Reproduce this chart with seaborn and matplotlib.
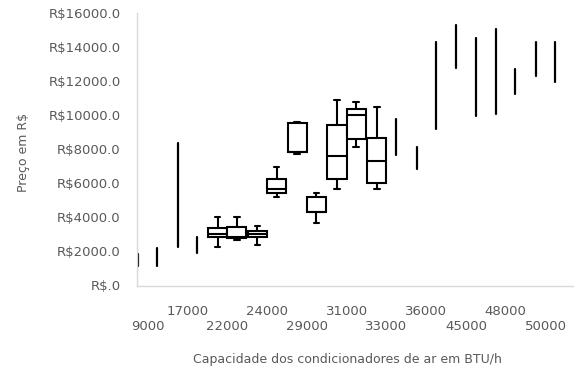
import numpy as np
import pandas as pd
import matplotlib
matplotlib.use("Agg")
import matplotlib.pyplot as plt
import seaborn as sns

# ---------------- data ----------------
capacidades = ["9000", "17000", "22000", "24000", "29000", "31000",
               "33000", "36000", "45000", "48000", "50000"]
series = ["Série 1", "Série 2"]

# groups drawn as boxes: min, Q1, median, Q3, max
box_cap = ["22000", "22000", "24000", "24000", "29000", "29000",
           "31000", "31000", "33000"]
box_serie = ["Série 1", "Série 2", "Série 1", "Série 2", "Série 1",
             "Série 2", "Série 1", "Série 2", "Série 1"]
box_min = [2250, 2680, 2380, 5190, 7760, 3660, 5670, 8130, 5670]
box_q1 = [2830, 2780, 2830, 5420, 7830, 4350, 6250, 8600, 6050]
box_med = [3030, 2850, 3030, 5700, 7830, 4350, 7630, 10030, 7320]
box_q3 = [3360, 3420, 3220, 6260, 9560, 5190, 9440, 10360, 8690]
box_max = [4010, 4010, 3520, 6950, 9610, 5420, 10910, 10810, 10480]

# groups with only two prices (drawn as a plain range line)
line_cap = ["9000", "9000", "17000", "17000", "33000", "36000", "36000",
            "45000", "45000", "48000", "48000", "50000", "50000"]
line_serie = ["Série 1", "Série 2", "Série 1", "Série 2", "Série 2",
              "Série 1", "Série 2", "Série 1", "Série 2", "Série 1",
              "Série 2", "Série 1", "Série 2"]
line_min = [1150, 1150, 2250, 1890, 7670, 6830, 9190,
            12810, 9980, 10080, 11280, 12320, 11980]
line_max = [1850, 2190, 8360, 2870, 9770, 8130, 14340,
            15320, 14570, 15070, 12710, 14340, 14340]

yticks = [0, 2000, 4000, 6000, 8000, 10000, 12000, 14000, 16000]
ytick_labels = ["R$.0", "R$2000.0", "R$4000.0", "R$6000.0", "R$8000.0",
                "R$10000.0", "R$12000.0", "R$14000.0", "R$16000.0"]

# ---------------- tables ----------------
rows = []
for c, s, a, b, m, d, e in zip(box_cap, box_serie, box_min, box_q1,
                               box_med, box_q3, box_max):
    for v in (a, b, m, d, e):
        rows.append({"cap": c, "serie": s, "preco": v})
box_df = pd.DataFrame(rows)

rows = []
for c, s, a, b in zip(line_cap, line_serie, line_min, line_max):
    for v in (a, b):
        rows.append({"cap": c, "serie": s, "preco": v})
line_df = pd.DataFrame(rows)

# ---------------- plot ----------------
sns.set_style("white")
plt.rcParams["font.family"] = ["DejaVu Sans"]

W, H = 574, 373
fig = plt.figure(figsize=(W / 100, H / 100), dpi=100)
ax = fig.add_axes([137.3 / W, (H - 285.5) / H, (573 - 137.3) / W, 272 / H])

sns.boxplot(data=box_df, x="cap", y="preco", hue="serie",
            order=capacidades, hue_order=series,
            palette=["white", "white"], saturation=1,
            linecolor="black", linewidth=1.5, width=0.96, gap=0,
            whis=(0, 100), showfliers=False, legend=False,
            capwidths=0.14, ax=ax)

sns.pointplot(data=line_df, x="cap", y="preco", hue="serie",
              order=capacidades, hue_order=series,
              palette=["black", "black"], estimator="mean",
              errorbar=("pi", 100), dodge=0.48, marker="",
              linestyle="none", err_kws={"linewidth": 1.6},
              capsize=0, legend=False, ax=ax)

ax.set_xlim(-0.26, 10.69)
ax.set_ylim(0, 16000)
ax.set_yticks(yticks)
ax.set_yticklabels(ytick_labels)
ax.set_xticks(range(len(capacidades)))
ax.set_xticklabels([("\n" + c) if i % 2 == 0 else c
                    for i, c in enumerate(capacidades)])

gray = "#595959"
ax.tick_params(axis="y", length=0, pad=12, labelsize=9.5, labelcolor=gray)
ax.tick_params(axis="x", length=0, pad=14, labelsize=9.5, labelcolor=gray)
ax.grid(False)
for side in ("top", "right"):
    ax.spines[side].set_visible(False)
for side in ("left", "bottom"):
    ax.spines[side].set_color("#d9d9d9")
    ax.spines[side].set_linewidth(1.0)

ax.set_xlabel("Capacidade dos condicionadores de ar em BTU/h",
              fontsize=9, color=gray)
ax.xaxis.set_label_coords((347.5 - 137.3) / 435.7, (285.5 - 360) / 272)
ax.xaxis.label.set_va("center")
ax.set_ylabel("Preço em R$", fontsize=9, color=gray)
ax.yaxis.set_label_coords((24 - 137.3) / 435.7, (285.5 - 152) / 272)
ax.yaxis.label.set_va("center")

fig.savefig("out.png", dpi=100)
